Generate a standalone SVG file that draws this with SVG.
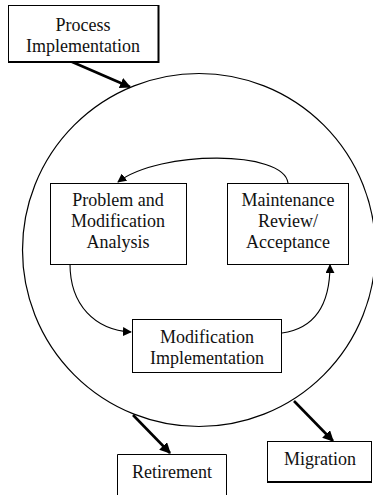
<svg xmlns="http://www.w3.org/2000/svg" width="373" height="495" viewBox="0 0 373 495">
  <style>
    .box { fill: #fff; stroke: #000; stroke-width: 1; }
    .lbl { fill: #111; text-anchor: middle; }
    .flow { fill: none; stroke: #000; stroke-width: 1.1; }
    .bold { fill: none; stroke: #000; stroke-width: 2.6; }
  </style>
  <defs>
    <marker id="ah" viewBox="0 0 10 10" refX="9" refY="5" markerWidth="9" markerHeight="9" markerUnits="userSpaceOnUse" orient="auto">
      <path d="M0,0 L10,5 L0,10 z" fill="#000"/>
    </marker>
    <marker id="ahb" viewBox="0 0 10 10" refX="9" refY="5" markerWidth="11" markerHeight="11" markerUnits="userSpaceOnUse" orient="auto">
      <path d="M0,0 L10,5 L0,10 z" fill="#000"/>
    </marker>
  </defs>

  <rect width="373" height="495" fill="#fff"/>

  <!-- maintenance cycle boundary -->
  <circle id="cycle" cx="199" cy="250" r="176.5" fill="none" stroke="#000" stroke-width="1.2"/>

  <g id="connectors">
    <path class="bold" d="M70,61 L130,87" marker-end="url(#ahb)"/>
    <path class="flow" d="M288,183 C284,150 160,150 118,182" marker-end="url(#ah)"/>
    <path class="flow" d="M70,264 C70,305 95,330 131,332" marker-end="url(#ah)"/>
    <path class="flow" d="M282,333 C318,328 330,300 330,265" marker-end="url(#ah)"/>
    <path class="bold" d="M133,415 L170,453" marker-end="url(#ahb)"/>
    <path class="bold" d="M294,401 L333,441" marker-end="url(#ahb)"/>
  </g>

  <g font-family="Liberation Serif" font-size="18">
    <g id="process-implementation">
      <rect class="box" x="8.5" y="5.5" width="150" height="56"/>
      <path d="M158.5,5 V62 H8" fill="none" stroke="#000" stroke-width="2"/>
      <text class="lbl" x="83" y="31">Process</text>
      <text class="lbl" x="83" y="52">Implementation</text>
    </g>

    <g id="problem-analysis">
      <rect class="box" x="50.5" y="183.5" width="136" height="81"/>
      <text class="lbl" x="118" y="206">Problem and</text>
      <text class="lbl" x="118" y="227">Modification</text>
      <text class="lbl" x="118" y="248">Analysis</text>
    </g>

    <g id="maintenance-review">
      <rect class="box" x="227.5" y="183.5" width="121" height="81"/>
      <text class="lbl" x="288" y="206">Maintenance</text>
      <text class="lbl" x="288" y="227">Review/</text>
      <text class="lbl" x="288" y="248">Acceptance</text>
    </g>

    <g id="modification-implementation">
      <rect class="box" x="132.5" y="319.5" width="149" height="53" stroke="#777"/>
      <text class="lbl" x="207" y="343">Modification</text>
      <text class="lbl" x="207" y="364">Implementation</text>
    </g>

    <g id="retirement">
      <path d="M117.5,495 V454.5 H226.5 V495" class="box"/>
      <text class="lbl" x="172" y="478">Retirement</text>
    </g>

    <g id="migration">
      <rect class="box" x="267.5" y="441.5" width="104" height="40"/>
      <path d="M267,482 H372" stroke="#000" stroke-width="2"/>
      <text class="lbl" x="320" y="465">Migration</text>
    </g>
  </g>
</svg>
